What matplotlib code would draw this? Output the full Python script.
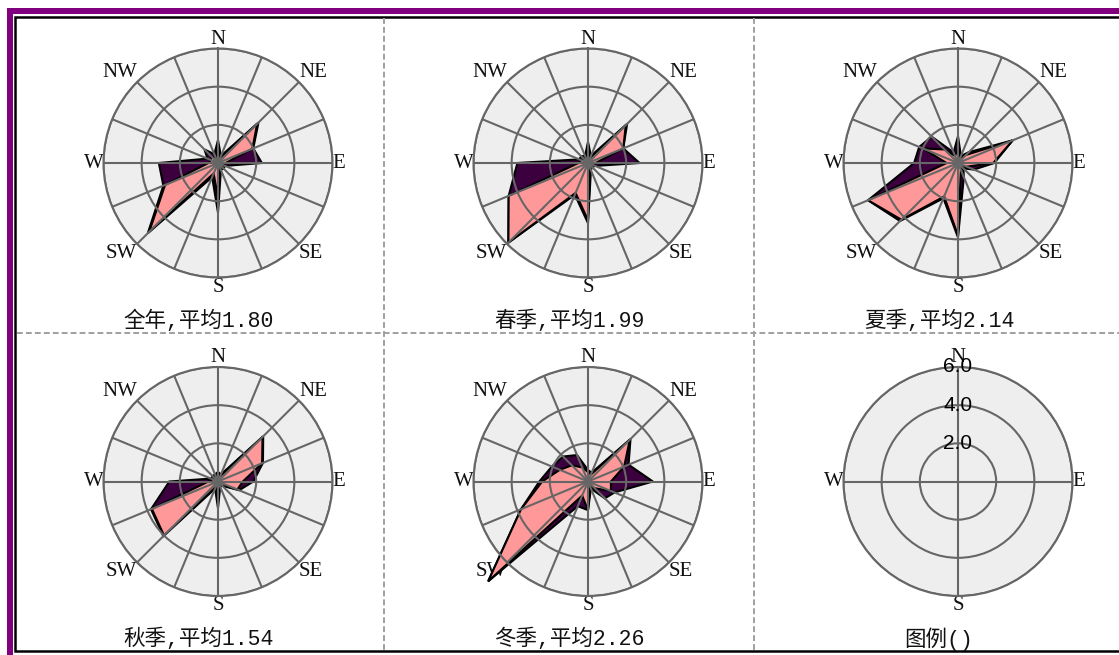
import numpy as np
import matplotlib.pyplot as plt
from matplotlib.patches import Rectangle

W, H = 1119, 655

directions = ['N', 'NNE', 'NE', 'ENE', 'E', 'ESE', 'SE', 'SSE',
              'S', 'SSW', 'SW', 'WSW', 'W', 'WNW', 'NW', 'NNW']

# two series per season, 16 directions clockwise from north
dark_year = [1.2, 0.4, 3.0, 2.0, 2.3, 0.4, 0.4, 0.4, 2.6, 0.8, 5.2, 3.1, 3.1, 0.6, 1.0, 0.5]
pink_year = [0.8, 0.3, 2.9, 1.95, 0.4, 0.3, 0.3, 0.3, 1.8, 0.6, 5.1, 3.0, 0.5, 0.4, 0.5, 0.3]

dark_spring = [1.1, 0.4, 2.9, 2.0, 2.7, 0.4, 0.3, 0.4, 3.15, 1.8, 5.9, 4.5, 3.7, 0.5, 0.5, 0.4]
pink_spring = [1.0, 0.3, 2.8, 2.0, 0.4, 0.3, 0.3, 0.3, 3.0, 1.7, 5.9, 4.5, 0.5, 0.4, 0.3, 0.3]

dark_summer = [1.4, 0.4, 0.8, 3.1, 1.9, 0.9, 0.4, 0.8, 3.9, 2.0, 4.3, 5.1, 2.3, 2.2, 1.95, 0.6]
pink_summer = [0.8, 0.3, 0.6, 3.1, 1.85, 0.5, 0.3, 0.4, 3.8, 1.9, 4.2, 5.1, 0.6, 2.0, 1.0, 0.4]

dark_autumn = [0.5, 0.4, 3.35, 2.55, 1.85, 1.2, 0.3, 0.3, 1.4, 0.4, 4.05, 3.8, 2.55, 0.4, 0.4, 0.4]
pink_autumn = [0.4, 0.3, 3.3, 2.5, 1.3, 1.1, 0.3, 0.2, 0.6, 0.3, 4.0, 3.75, 0.5, 0.3, 0.3, 0.3]

dark_winter = [0.6, 0.5, 3.15, 2.3, 3.4, 1.5, 1.25, 0.4, 1.5, 1.4, 7.4, 3.8, 2.55, 2.05, 1.85, 1.5]
pink_winter = [0.5, 0.4, 3.1, 2.05, 1.2, 1.3, 0.5, 0.3, 1.5, 0.8, 7.4, 3.8, 2.4, 1.6, 1.2, 0.8]

titles = ['全年,平均1.80', '春季,平均1.99', '夏季,平均2.14',
          '秋季,平均1.54', '冬季,平均2.26', '图例()']
rings = [2.0, 4.0, 6.0]

DARK = '#3c003f'
PINK = '#ff9999'
GRID = '#666666'
LABEL_FONT = ['Liberation Serif', 'DejaVu Serif']
TITLE_FONT = ['Liberation Mono', 'Noto Sans CJK SC']

# where each compass label sits relative to its point on the outer ring
label_align = {
    'N': ('center', 'bottom'), 'NE': ('left', 'bottom'),
    'E': ('left', 'center'), 'SE': ('left', 'top'),
    'S': ('center', 'top'), 'SW': ('right', 'top'),
    'W': ('right', 'center'), 'NW': ('right', 'bottom'),
}

fig = plt.figure(figsize=(W / 100, H / 100), dpi=100)
fig.patch.set_facecolor('white')

# page frame, cell separators and captions in pixel units
bg = fig.add_axes([0, 0, 1, 1])
bg.set_xlim(0, W)
bg.set_ylim(H, 0)
bg.axis('off')
bg.add_patch(Rectangle((6.7, 8.3), 1300, 1000, facecolor='#800080', edgecolor='none'))
bg.add_patch(Rectangle((12.7, 14.2), 1300, 1000, facecolor='white', edgecolor='none'))
bg.add_patch(Rectangle((15.3, 16.5), 1300, 634.7, facecolor='white',
                       edgecolor='black', lw=1.8))
dash = dict(color='#a0a0a0', lw=1.4, dashes=(3, 1.6))
bg.plot([16.5, W], [333, 333], **dash)
for x in (384, 754):
    bg.plot([x, x], [18, 650], **dash)

col_x = [218, 588, 958]
row_y = [163, 481.5]
title_x = [199, 569, 939]
title_y = [321, 639]
R = 114.5

theta16 = np.deg2rad(np.arange(16) * 22.5)
series = [(dark_year, pink_year), (dark_spring, pink_spring),
          (dark_summer, pink_summer), (dark_autumn, pink_autumn),
          (dark_winter, pink_winter)]


def polar_axes(cx, cy):
    ax = fig.add_axes([(cx - R) / W, 1 - (cy + R) / H, 2 * R / W, 2 * R / H],
                      projection='polar')
    ax.set_theta_zero_location('N')
    ax.set_theta_direction(-1)
    ax.set_ylim(0, 6)
    ax.set_facecolor('#eeeeee')
    ax.set_yticks(rings)
    ax.set_yticklabels([])
    ax.set_axisbelow(False)
    ax.grid(True, color=GRID, lw=1.5)
    ax.spines['polar'].set_color(GRID)
    ax.spines['polar'].set_linewidth(1.5)
    ax.tick_params(length=0)
    return ax


def compass(ax, names):
    for name in names:
        ang = np.deg2rad(directions.index(name) * 22.5)
        ha, va = label_align[name]
        ax.text(ang, 6.0, name, ha=ha, va=va, family=LABEL_FONT,
                fontsize=15, color='#111111', zorder=0.5, clip_on=False)


for i, (dark, pink) in enumerate(series):
    row, col = divmod(i, 3)
    ax = polar_axes(col_x[col], row_y[row])
    ax.set_xticks(theta16)
    ax.set_xticklabels([])
    compass(ax, ['N', 'NE', 'E', 'SE', 'S', 'SW', 'W', 'NW'])
    th = np.append(theta16, theta16[0])
    ax.fill(th, np.append(dark, dark[0]), facecolor=DARK, edgecolor='black',
            lw=1.5, zorder=1, clip_on=False)
    ax.fill(th, np.append(pink, pink[0]), facecolor=PINK, edgecolor='black',
            lw=1.5, zorder=1.1, clip_on=False)

# legend panel: scale rings only
ax = polar_axes(col_x[2], row_y[1])
ax.set_xticks(np.deg2rad([0, 90, 180, 270]))
ax.set_xticklabels([])
compass(ax, ['N', 'E', 'S', 'W'])
for r in rings:
    ax.text(0, r, f'{r:.1f}', ha='center', va='center', family='Liberation Sans',
            fontsize=15, color='black', zorder=4, clip_on=False)

for i, t in enumerate(titles):
    row, col = divmod(i, 3)
    bg.text(title_x[col], title_y[row], t, ha='center', va='center',
            family=TITLE_FONT, fontsize=15.5, color='#111111')

fig.savefig('out.png', dpi=100)
